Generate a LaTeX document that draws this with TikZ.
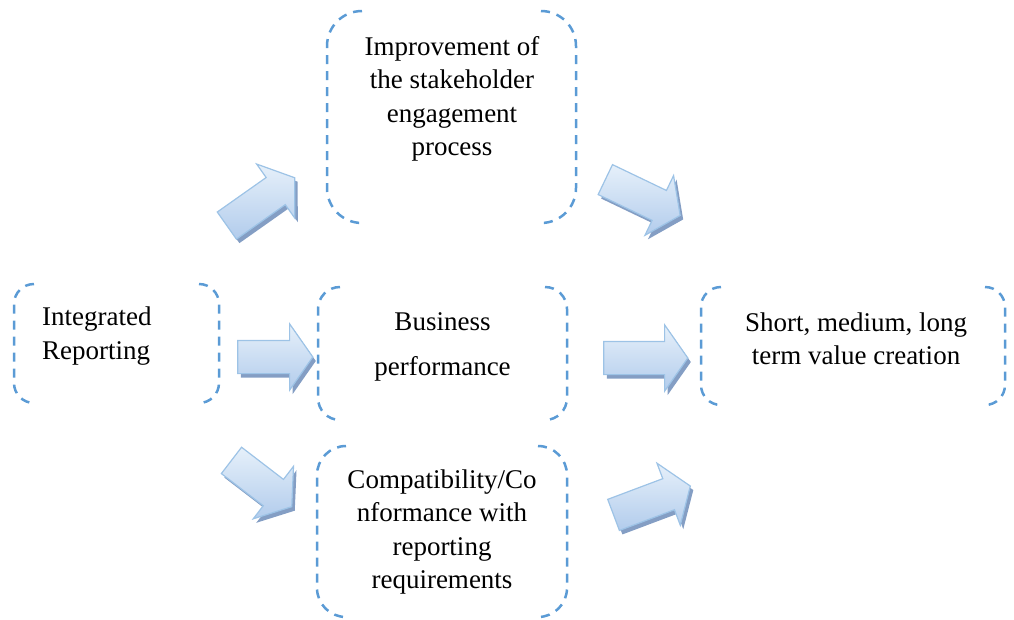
\documentclass[tikz,border=0pt]{standalone}
\usepackage{fontspec}
\setmainfont{Liberation Serif}
\usepackage{tikz}
\usetikzlibrary{shadows}
\usetikzlibrary{positioning}
\usetikzlibrary{shapes,shapes.arrows}
\usetikzlibrary{calc}

\definecolor{dashblue}{RGB}{91,155,213}
\definecolor{arrline}{RGB}{157,195,230}
\definecolor{arrlight}{RGB}{230,240,250}
\definecolor{arrdark}{RGB}{178,204,236}
\definecolor{arrshade}{RGB}{132,158,196}

\begin{document}
\begin{tikzpicture}[x=1pt,y=1pt,
  dashbox/.style={dashblue, line width=2.5pt, dash pattern=on 9pt off 7pt},
  boxtext/.style={inner sep=0pt, align=center, font=\fontsize{27}{33.5}\selectfont},
  blockarr/.style={single arrow, draw=arrline, line width=1.2pt,
    top color=arrlight, bottom color=arrdark,
    inner sep=0pt, inner ysep=16pt, single arrow head extend=16.5pt,
    single arrow tip angle=110, minimum height=#1,
    drop shadow={shadow xshift=3pt, shadow yshift=-4pt, fill=arrshade, opacity=1}}]

  \useasboundingbox (0,0) rectangle (1014,-619);

  %draw boxes (only the rounded sides)
  \foreach \xa/\ya/\xb/\yb/\r in {14/284/219/403/20, 327/11/576/223/35, 318/287/567/420/22, 701/287/1005/405/20, 317/446/567/617/29}{
    \draw[dashbox] (\xa+\r,-\ya) arc[start angle=90,end angle=180,radius=\r] -- (\xa,-\yb+\r) arc[start angle=180,end angle=270,radius=\r];
    \draw[dashbox] (\xb-\r,-\ya) arc[start angle=90,end angle=0,radius=\r] -- (\xb,-\yb+\r) arc[start angle=0,end angle=-90,radius=\r];
  }

  %texts
  \node[boxtext, align=left, anchor=west] (ir) at (42,-336) {Integrated\\Reporting};
  \node[boxtext] (imp) at (452,-99) {Improvement of\\the stakeholder\\engagement\\process};
  \node[boxtext, font=\fontsize{27}{45}\selectfont] (bus) at (442.5,-347) {Business\\performance};
  \node[boxtext] (val) at (856,-339) {Short, medium, long\\term value creation};
  \node[boxtext] (com) at (442,-532) {Compatibility/Co\\nformance with\\reporting\\requirements};

  %arrows
  \foreach \x/\y/\a/\l/\name in {256/205/35.2/83/a1, 269.5/357/0/75/a2, 257/480/-37.5/76/a3, 637.5/195/-25.6/83/a4, 640/358/0/84/a5, 646.5/502.5/20.6/82/a6}{
    \node[blockarr=\l pt, rotate=\a] (\name) at (\x,-\y) {};
  }

\end{tikzpicture}
\end{document}
